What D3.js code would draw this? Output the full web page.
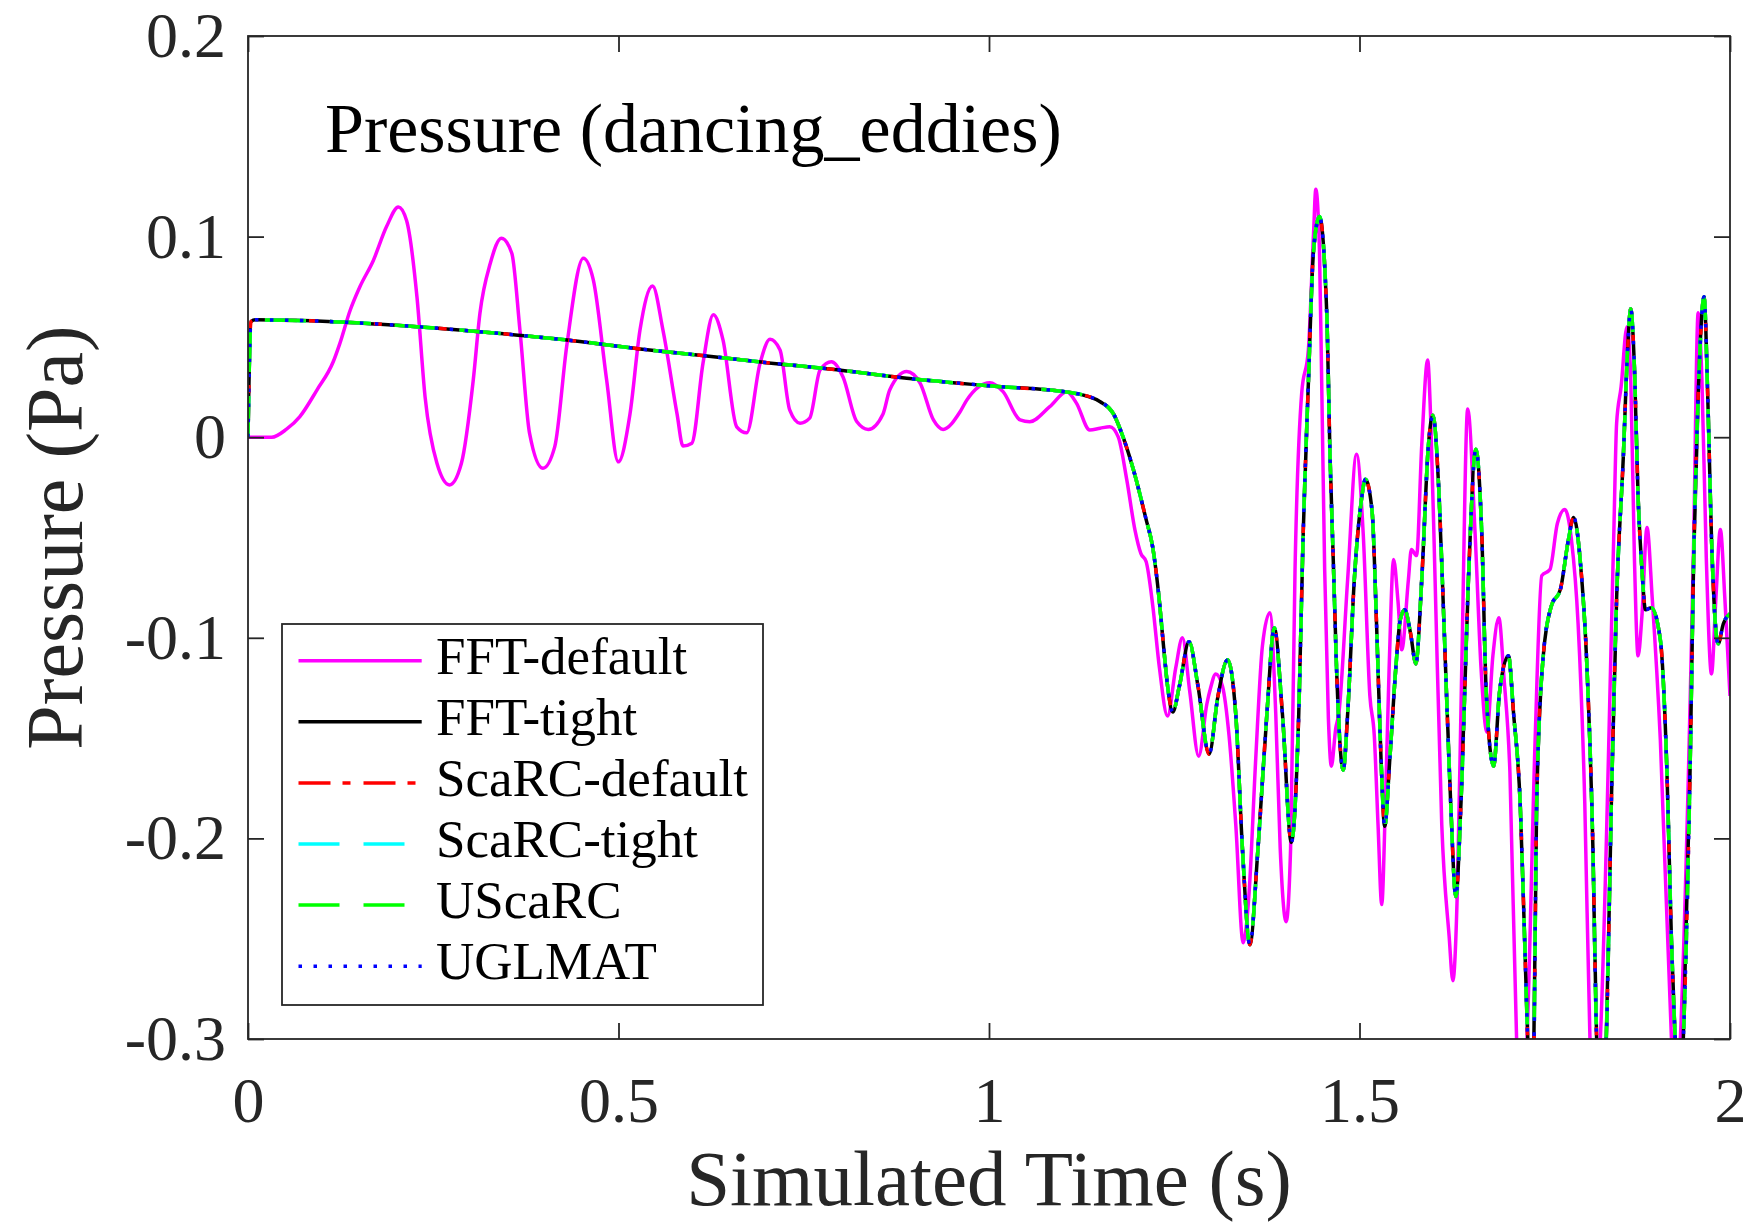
<!DOCTYPE html>
<html>
<head>
<meta charset="utf-8">
<script src="https://cdn.jsdelivr.net/npm/d3@7/dist/d3.min.js"></script>
<style>
body { margin: 0; background: #fff; }
text { font-family: "Liberation Serif", "DejaVu Serif", serif; }
</style>
</head>
<body>
<script>
// ---- data ----
// FFT-default (the only curve that differs)
var defaultT = [0, 0.032, 0.052, 0.070, 0.093, 0.115, 0.124, 0.138, 0.151, 0.169, 0.187, 0.203, 0.214, 0.228, 0.239, 0.255, 0.272, 0.288, 0.304, 0.313,
  0.327, 0.342, 0.356, 0.367, 0.380, 0.398, 0.414, 0.430, 0.4525, 0.466, 0.484, 0.4997, 0.5155, 0.529, 0.546, 0.560, 0.579, 0.587, 0.599, 0.614,
  0.628, 0.641, 0.6595, 0.673, 0.691, 0.7045, 0.718, 0.731, 0.745, 0.758, 0.772, 0.7875, 0.803, 0.8215, 0.837, 0.857, 0.866, 0.889, 0.907, 0.925,
  0.938, 0.961, 0.970, 1.001, 1.019, 1.042, 1.055, 1.082, 1.105, 1.118, 1.136, 1.150, 1.163, 1.1745, 1.186, 1.197, 1.205, 1.212, 1.221, 1.230,
  1.241, 1.252, 1.261, 1.271, 1.283, 1.294, 1.299, 1.306, 1.315, 1.324, 1.333, 1.343, 1.351, 1.360, 1.369, 1.379, 1.387, 1.393, 1.401, 1.407,
  1.413, 1.422, 1.431, 1.438, 1.441, 1.446, 1.449, 1.453, 1.458, 1.462, 1.468, 1.472, 1.484, 1.496, 1.505, 1.514, 1.520, 1.525, 1.530, 1.535,
  1.540, 1.546, 1.552, 1.557, 1.566, 1.570, 1.577, 1.584, 1.592, 1.596, 1.602, 1.611, 1.621, 1.626, 1.632, 1.638, 1.646, 1.656, 1.664, 1.672,
  1.680, 1.688, 1.695, 1.703, 1.712, 1.719, 1.726, 1.737, 1.746, 1.757, 1.767, 1.777, 1.786, 1.795, 1.804, 1.811, 1.818, 1.825, 1.843, 1.847,
  1.853, 1.861, 1.866, 1.871, 1.876, 1.881, 1.888, 1.895, 1.906, 1.921, 1.927, 1.933, 1.951, 1.957, 1.962, 1.968, 1.975, 1.981, 1.987, 1.993, 2.0];
var defaultP = [0, 0.0, 0.004, 0.0103, 0.0235, 0.0376, 0.0468, 0.0634, 0.075, 0.088, 0.105, 0.1148, 0.108, 0.070, 0.020, -0.013, -0.0238, -0.013, 0.0285, 0.0618,
  0.0867, 0.0992, 0.0917, 0.0534, 0.0019, -0.0155, -0.0047, 0.0451, 0.0892, 0.0784, 0.0285, -0.0123, 0.0116, 0.0534, 0.0754, 0.0534, 0.0116, -0.0044, -0.003, 0.0368,
  0.061, 0.0485, 0.0052, 0.0022, 0.0368, 0.0488, 0.0435, 0.0136, 0.007, 0.0095, 0.0335, 0.0376, 0.030, 0.0078, 0.0039, 0.0116, 0.0235, 0.0327, 0.027, 0.0086,
  0.0039, 0.0127, 0.0185, 0.0272, 0.0227, 0.0086, 0.0077, 0.0152, 0.0227, 0.017, 0.0036, 0.0045, 0.0052, 0.0, -0.0214, -0.0463, -0.058, -0.062, -0.084, -0.115,
  -0.139, -0.115, -0.100, -0.127, -0.159, -0.133, -0.125, -0.118, -0.124, -0.149, -0.193, -0.252, -0.227, -0.160, -0.104, -0.0875, -0.138, -0.205, -0.2415, -0.205,
  -0.066, 0.022, 0.0435, 0.1016, 0.1236, 0.093, 0.027, -0.066, -0.140, -0.164, -0.145, -0.138, -0.071, -0.0085, -0.048, -0.129, -0.149, -0.193, -0.233, -0.182,
  -0.115, -0.061, -0.082, -0.106, -0.071, -0.056, -0.059, -0.004, 0.0385, 0.010, -0.071, -0.193, -0.249, -0.271, -0.227, -0.115, 0.014, -0.048, -0.115, -0.147,
  -0.109, -0.090, -0.120, -0.167, -0.30, -0.34, -0.30, -0.151, -0.069, -0.066, -0.043, -0.036, -0.051, -0.093, -0.182, -0.30, -0.34, -0.30, -0.051, 0.007,
  0.025, 0.055, 0.030, -0.060, -0.109, -0.090, -0.045, -0.080, -0.151, -0.30, -0.34, -0.30, -0.051, 0.062, 0.030, -0.060, -0.118, -0.080, -0.046, -0.080, -0.129];

// FFT-tight; ScaRC-default, ScaRC-tight, UScaRC and UGLMAT lie on top of it
var tightT = [0, 0.004, 0.01, 0.115, 0.228, 0.349, 0.439, 0.529, 0.619, 0.689, 0.80, 0.889, 1.0, 1.114, 1.150, 1.168, 1.181, 1.195, 1.212, 1.221,
  1.230, 1.236, 1.242, 1.248, 1.257, 1.270, 1.282, 1.297, 1.309, 1.322, 1.333, 1.342, 1.352, 1.363, 1.375, 1.385, 1.396, 1.408, 1.418, 1.424,
  1.431, 1.438, 1.446, 1.456, 1.460, 1.465, 1.469, 1.478, 1.484, 1.493, 1.502, 1.508, 1.517, 1.523, 1.529, 1.534, 1.541, 1.549, 1.555, 1.561,
  1.569, 1.576, 1.584, 1.593, 1.599, 1.607, 1.614, 1.623, 1.630, 1.637, 1.647, 1.657, 1.665, 1.671, 1.681, 1.689, 1.701, 1.708, 1.717, 1.722,
  1.728, 1.731, 1.735, 1.739, 1.748, 1.759, 1.771, 1.782, 1.789, 1.798, 1.807, 1.815, 1.820, 1.826, 1.833, 1.840, 1.847, 1.856, 1.862, 1.866,
  1.871, 1.876, 1.881, 1.886, 1.894, 1.906, 1.915, 1.921, 1.926, 1.931, 1.937, 1.946, 1.951, 1.957, 1.965, 1.970, 1.975, 1.984, 1.991, 2.0];
var tightP = [0, 0.0576, 0.0585, 0.0576, 0.0551, 0.0514, 0.0481, 0.0440, 0.0405, 0.0376, 0.0334, 0.0294, 0.0256, 0.0220, 0.0177, 0.0116, 0.0, -0.0164, -0.041, -0.055,
  -0.082, -0.106, -0.127, -0.137, -0.124, -0.102, -0.124, -0.158, -0.129, -0.111, -0.138, -0.205, -0.253, -0.205, -0.138, -0.095, -0.138, -0.202, -0.138, -0.048,
  0.027, 0.093, 0.110, 0.060, -0.006, -0.066, -0.115, -0.166, -0.138, -0.071, -0.033, -0.021, -0.037, -0.093, -0.160, -0.194, -0.160, -0.115, -0.091, -0.086,
  -0.098, -0.113, -0.071, -0.004, 0.011, -0.026, -0.093, -0.182, -0.229, -0.182, -0.071, -0.006, -0.048, -0.127, -0.164, -0.127, -0.109, -0.138, -0.184, -0.240,
  -0.31, -0.33, -0.31, -0.184, -0.109, -0.084, -0.076, -0.051, -0.040, -0.062, -0.115, -0.205, -0.30, -0.335, -0.30, -0.180, -0.080, -0.010, 0.045, 0.064,
  0.035, -0.030, -0.065, -0.086, -0.085, -0.101, -0.168, -0.251, -0.30, -0.335, -0.30, -0.168, -0.060, 0.020, 0.070, 0.020, -0.050, -0.103, -0.093, -0.088];

var seriesNames = ["FFT-default", "FFT-tight", "ScaRC-default", "ScaRC-tight", "UScaRC", "UGLMAT"];
var seriesColors = ["#ff00ff", "#000000", "#ff0000", "#00ffff", "#00ff00", "#0000ff"];
var seriesDash = [null, null, "32,12,8,13", "41,24", "41,24", "3.5,11.5"];
var xTicks = [0, 0.5, 1, 1.5, 2];
var yTicks = [-0.3, -0.2, -0.1, 0, 0.1, 0.2];

var width = 1752, height = 1223;
// plot box (note: "top" is taken by window.top, so prefix these)
var boxL = 248, boxR = 1730, boxT = 36, boxB = 1039;
var ink = "#262626";
var lw = 3.5;

var svg = d3.select("body").append("svg")
    .attr("width", width)
    .attr("height", height);

var x = d3.scaleLinear().domain([0, 2]).range([boxL, boxR]);
var y = d3.scaleLinear().domain([-0.3, 0.2]).range([boxB, boxT]);

function fmt(d) { return d === 0 ? "0" : String(+d.toFixed(1)); }

svg.append("defs").append("clipPath").attr("id", "plotclip")
  .append("rect")
    .attr("x", boxL).attr("y", boxT)
    .attr("width", boxR - boxL).attr("height", boxB - boxT);

// build one point list per series
var defaultPts = defaultT.map(function(t, i) { return [t, defaultP[i]]; });
var tightPts = tightT.map(function(t, i) { return [t, tightP[i]]; });
var seriesData = [defaultPts, tightPts, tightPts, tightPts, tightPts, tightPts];

var line = d3.line()
    .x(function(d) { return x(d[0]); })
    .y(function(d) { return y(d[1]); })
    .curve(d3.curveMonotoneX);

var lines = svg.append("g").attr("clip-path", "url(#plotclip)");
seriesData.forEach(function(pts, i) {
  lines.append("path")
    .datum(pts)
    .attr("d", line)
    .attr("fill", "none")
    .attr("stroke", seriesColors[i])
    .attr("stroke-width", lw)
    .attr("stroke-linejoin", "round")
    .attr("stroke-dasharray", seriesDash[i]);
});

// axes, ticks pointing inwards on all four sides
var ax = svg.append("g").attr("class", "axes");
ax.append("g")
    .attr("transform", "translate(0," + boxB + ")")
    .call(d3.axisBottom(x).tickValues(xTicks).tickFormat(fmt).tickSize(-16).tickSizeOuter(0).tickPadding(38));
ax.append("g")
    .attr("transform", "translate(0," + boxT + ")")
    .call(d3.axisTop(x).tickValues(xTicks).tickFormat("").tickSize(-16).tickSizeOuter(0));
ax.append("g")
    .attr("transform", "translate(" + boxL + ",0)")
    .call(d3.axisLeft(y).tickValues(yTicks).tickFormat(fmt).tickSize(-16).tickSizeOuter(0).tickPadding(22));
ax.append("g")
    .attr("transform", "translate(" + boxR + ",0)")
    .call(d3.axisRight(y).tickValues(yTicks).tickFormat("").tickSize(-16).tickSizeOuter(0));

ax.selectAll(".domain").remove();
ax.selectAll(".tick line").attr("stroke", ink).attr("stroke-width", 1.8);
ax.selectAll(".tick text")
    .attr("fill", ink)
    .style("font-family", '"Liberation Serif", serif')
    .style("font-size", "64px");

svg.append("rect")
    .attr("x", boxL).attr("y", boxT)
    .attr("width", boxR - boxL).attr("height", boxB - boxT)
    .attr("fill", "none")
    .attr("stroke", ink)
    .attr("stroke-width", 1.8);

// labels
svg.append("text")
    .attr("x", (boxL + boxR) / 2)
    .attr("y", 1205)
    .attr("text-anchor", "middle")
    .attr("fill", ink)
    .style("font-size", "79px")
    .text("Simulated Time (s)");

svg.append("text")
    .attr("transform", "translate(82," + (boxT + boxB) / 2 + ") rotate(-90)")
    .attr("text-anchor", "middle")
    .attr("fill", ink)
    .style("font-size", "80px")
    .text("Pressure (Pa)");

svg.append("text")
    .attr("x", 325)
    .attr("y", 152)
    .attr("fill", "#000")
    .style("font-size", "70px")
    .text("Pressure (dancing_eddies)");

// legend
var lg = svg.append("g");
lg.append("rect")
    .attr("x", 282).attr("y", 624)
    .attr("width", 481).attr("height", 381)
    .attr("fill", "#fff")
    .attr("stroke", ink)
    .attr("stroke-width", 1.8);

seriesNames.forEach(function(name, i) {
  var ry = 660.7 + i * 61.1;
  lg.append("line")
    .attr("x1", 298.5).attr("x2", 421.7)
    .attr("y1", ry).attr("y2", ry)
    .attr("stroke", seriesColors[i])
    .attr("stroke-width", lw)
    .attr("stroke-dasharray", seriesDash[i]);
  lg.append("text")
    .attr("x", 436)
    .attr("y", ry + 13)
    .attr("fill", "#000")
    .style("font-size", "53px")
    .text(name);
});
</script>
</body>
</html>
